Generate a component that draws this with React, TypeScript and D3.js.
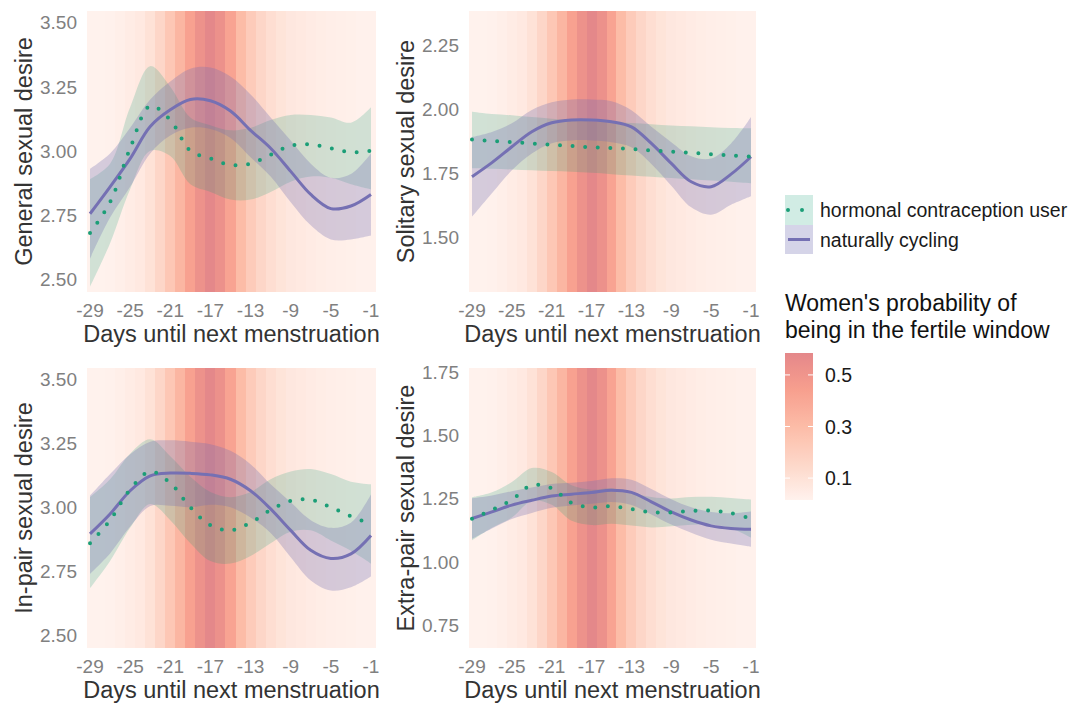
import React from "react";
import * as d3 from "d3";

// ---------- DATA ----------
const days = [-29, -27, -25, -23, -21, -19, -17, -15, -13, -11, -9, -7, -5, -3, -1];
const xTicks = [-29, -25, -21, -17, -13, -9, -5, -1];

const fertileDays = [-29, -28, -27, -26, -25, -24, -23, -22, -21, -20, -19, -18, -17, -16, -15, -14, -13, -12, -11, -10, -9, -8, -7, -6, -5, -4, -3, -2, -1];
const fertileProb = [0.015, 0.016, 0.02, 0.03, 0.045, 0.06, 0.1, 0.16, 0.24, 0.33, 0.43, 0.52, 0.585, 0.53, 0.42, 0.3, 0.22, 0.16, 0.12, 0.09, 0.07, 0.06, 0.05, 0.04, 0.035, 0.03, 0.025, 0.02, 0.02];
const legendBreaks = [0.1, 0.3, 0.5];

// General sexual desire
const generalNC = [2.755, 2.86, 2.97, 3.095, 3.16, 3.2, 3.195, 3.155, 3.08, 3.01, 2.92, 2.83, 2.775, 2.785, 2.83];
const generalNCLo = [2.58, 2.74, 2.86, 2.99, 3.06, 3.09, 3.085, 3.05, 2.975, 2.9, 2.8, 2.71, 2.655, 2.655, 2.67];
const generalNCHi = [2.93, 2.99, 3.09, 3.2, 3.27, 3.32, 3.325, 3.29, 3.22, 3.13, 3.04, 2.95, 2.895, 2.91, 2.99];
const generalHC = [2.68, 2.8, 3.01, 3.175, 3.12, 3.0, 2.97, 2.945, 2.95, 2.985, 3.02, 3.025, 3.01, 2.995, 3.0];
const generalHCLo = [2.47, 2.64, 2.85, 3.0, 2.98, 2.87, 2.84, 2.81, 2.81, 2.84, 2.88, 2.9, 2.895, 2.87, 2.85];
const generalHCHi = [2.89, 2.95, 3.17, 3.33, 3.25, 3.13, 3.1, 3.08, 3.09, 3.12, 3.14, 3.14, 3.13, 3.11, 3.17];

// Solitary sexual desire
const solitaryNC = [1.735, 1.79, 1.852, 1.911, 1.946, 1.957, 1.957, 1.95, 1.93, 1.865, 1.787, 1.715, 1.696, 1.745, 1.813];
const solitaryNCLo = [1.578, 1.67, 1.76, 1.826, 1.866, 1.877, 1.877, 1.87, 1.85, 1.785, 1.7, 1.615, 1.586, 1.625, 1.658];
const solitaryNCHi = [1.89, 1.91, 1.944, 1.996, 2.026, 2.037, 2.037, 2.03, 1.995, 1.93, 1.87, 1.815, 1.806, 1.865, 1.968];
const solitaryHC = [1.88, 1.875, 1.87, 1.865, 1.86, 1.855, 1.85, 1.847, 1.843, 1.838, 1.833, 1.828, 1.823, 1.818, 1.813];
const solitaryHCLo = [1.768, 1.766, 1.763, 1.76, 1.757, 1.754, 1.75, 1.745, 1.74, 1.735, 1.73, 1.725, 1.72, 1.715, 1.709];
const solitaryHCHi = [1.989, 1.98, 1.975, 1.968, 1.962, 1.957, 1.952, 1.948, 1.945, 1.94, 1.935, 1.932, 1.928, 1.925, 1.924];

// In-pair sexual desire
const inpairNC = [2.896, 2.974, 3.065, 3.123, 3.134, 3.133, 3.127, 3.11, 3.065, 2.994, 2.91, 2.832, 2.8, 2.818, 2.89];
const inpairNCLo = [2.74, 2.82, 2.925, 3.005, 3.006, 3.0, 3.01, 3.0, 2.96, 2.9, 2.805, 2.714, 2.675, 2.688, 2.73];
const inpairNCHi = [3.045, 3.13, 3.208, 3.257, 3.262, 3.257, 3.247, 3.221, 3.169, 3.09, 3.02, 2.95, 2.92, 2.94, 3.05];
const inpairHC = [2.86, 2.95, 3.07, 3.14, 3.095, 3.0, 2.93, 2.91, 2.94, 2.99, 3.025, 3.03, 3.0, 2.965, 2.935];
const inpairHCLo = [2.683, 2.79, 2.92, 3.013, 2.95, 2.86, 2.79, 2.78, 2.81, 2.86, 2.905, 2.91, 2.87, 2.83, 2.78];
const inpairHCHi = [3.04, 3.11, 3.21, 3.266, 3.2, 3.12, 3.06, 3.04, 3.06, 3.11, 3.14, 3.15, 3.13, 3.1, 3.09];

// Extra-pair sexual desire
const extraNC = [1.171, 1.197, 1.224, 1.243, 1.26, 1.267, 1.274, 1.283, 1.274, 1.237, 1.197, 1.165, 1.142, 1.132, 1.129];
const extraNCLo = [1.091, 1.132, 1.169, 1.193, 1.213, 1.222, 1.229, 1.236, 1.224, 1.187, 1.147, 1.115, 1.087, 1.072, 1.059];
const extraNCHi = [1.251, 1.262, 1.279, 1.293, 1.307, 1.312, 1.319, 1.33, 1.324, 1.287, 1.247, 1.215, 1.197, 1.192, 1.199];
const extraHC = [1.17, 1.205, 1.245, 1.303, 1.29, 1.232, 1.215, 1.22, 1.208, 1.196, 1.195, 1.201, 1.202, 1.192, 1.171];
const extraHCLo = [1.085, 1.135, 1.175, 1.24, 1.225, 1.162, 1.145, 1.15, 1.143, 1.136, 1.14, 1.146, 1.147, 1.132, 1.096];
const extraHCHi = [1.255, 1.275, 1.315, 1.37, 1.355, 1.302, 1.285, 1.29, 1.273, 1.256, 1.25, 1.256, 1.257, 1.252, 1.246];

const ticksGeneral = [2.5, 2.75, 3.0, 3.25, 3.5];
const ticksSolitary = [1.5, 1.75, 2.0, 2.25];
const ticksExtra = [0.75, 1.0, 1.25, 1.5, 1.75];

const seriesLabels = ["hormonal contraception user", "naturally cycling"];
const legendTitleLines = ["Women's probability of", "being in the fertile window"];

// ---------- STYLE ----------
const FONT = "'Liberation Sans', Arial, Helvetica, sans-serif";
const HC_COLOR = "#1b9e77";
const NC_COLOR = "#7570b3";
const TICK_COLOR = "#808080";
const TITLE_COLOR = "#333333";

const fillScale = d3
  .scaleLinear<string>()
  .domain([0.015, 0.15, 0.3, 0.45, 0.585])
  .range(["#fff2ed", "#fdd8ca", "#fcbca7", "#f79d8d", "#e4888a"])
  .interpolate(d3.interpolateLab);

const panels = [
  {
    id: "p1", title: "General sexual desire", left: 87, right: 376, top: 11, bottom: 292,
    yDomain: [2.45, 3.545], ticks: ticksGeneral,
    nc: generalNC, ncLo: generalNCLo, ncHi: generalNCHi, hc: generalHC, hcLo: generalHCLo, hcHi: generalHCHi,
  },
  {
    id: "p2", title: "Solitary sexual desire", left: 469, right: 756, top: 11, bottom: 292,
    yDomain: [1.284, 2.383], ticks: ticksSolitary,
    nc: solitaryNC, ncLo: solitaryNCLo, ncHi: solitaryNCHi, hc: solitaryHC, hcLo: solitaryHCLo, hcHi: solitaryHCHi,
  },
  {
    id: "p3", title: "In-pair sexual desire", left: 87, right: 376, top: 368, bottom: 648,
    yDomain: [2.45, 3.545], ticks: ticksGeneral,
    nc: inpairNC, ncLo: inpairNCLo, ncHi: inpairNCHi, hc: inpairHC, hcLo: inpairHCLo, hcHi: inpairHCHi,
  },
  {
    id: "p4", title: "Extra-pair sexual desire", left: 469, right: 756, top: 368, bottom: 648,
    yDomain: [0.66, 1.765], ticks: ticksExtra,
    nc: extraNC, ncLo: extraNCLo, ncHi: extraNCHi, hc: extraHC, hcLo: extraHCLo, hcHi: extraHCHi,
  },
];

function Panel({ p }: { p: any }) {
  const x = d3.scaleLinear().domain([-29.3, -0.5]).range([p.left, p.right]);
  const y = d3.scaleLinear().domain(p.yDomain).range([p.bottom, p.top]);
  const curve = d3.curveCatmullRom.alpha(0.5);
  const area = (lo: number[], hi: number[]) =>
    d3
      .area<number>()
      .x((d) => x(d))
      .y0((_, i) => y(lo[i]))
      .y1((_, i) => y(hi[i]))
      .curve(curve)(days) as string;
  const line = (v: number[]) =>
    d3
      .line<number>()
      .x((d) => x(d))
      .y((_, i) => y(v[i]))
      .curve(curve)(days) as string;
  const cx = (p.left + p.right) / 2;
  const cy = (p.top + p.bottom) / 2;
  const titleX = p.left - 55;
  return (
    <g>
      <defs>
        <clipPath id={`clip-${p.id}`}>
          <rect x={p.left} y={p.top} width={p.right - p.left} height={p.bottom - p.top} />
        </clipPath>
      </defs>
      <g clipPath={`url(#clip-${p.id})`}>
        {fertileDays.map((d, i) => (
          <rect
            key={d}
            x={x(d - 0.5)}
            y={p.top}
            width={x(d + 0.5) - x(d - 0.5) + 0.3}
            height={p.bottom - p.top}
            fill={fillScale(fertileProb[i])}
            shapeRendering="crispEdges"
          />
        ))}
        <path d={area(p.hcLo, p.hcHi)} fill={HC_COLOR} fillOpacity={0.2} />
        <path d={area(p.ncLo, p.ncHi)} fill={NC_COLOR} fillOpacity={0.3} />
        <path d={line(p.nc)} fill="none" stroke={NC_COLOR} strokeWidth={3} />
        <path
          d={line(p.hc)}
          fill="none"
          stroke={HC_COLOR}
          strokeWidth={4}
          strokeLinecap="round"
          strokeDasharray="0 12.6"
        />
      </g>
      {p.ticks.map((t: number) => (
        <text
          key={t}
          x={p.left - 10}
          y={y(t)}
          dy="0.36em"
          textAnchor="end"
          fontSize={19}
          fill={TICK_COLOR}
          fontFamily={FONT}
        >
          {t.toFixed(2)}
        </text>
      ))}
      {xTicks.map((t) => (
        <text
          key={t}
          x={x(t)}
          y={p.bottom + 25}
          textAnchor="middle"
          fontSize={19}
          fill={TICK_COLOR}
          fontFamily={FONT}
        >
          {`-${Math.abs(t)}`}
        </text>
      ))}
      <text
        x={cx}
        y={p.bottom + 50}
        textAnchor="middle"
        fontSize={23.5}
        fill={TITLE_COLOR}
        fontFamily={FONT}
      >
        Days until next menstruation
      </text>
      <text
        transform={`translate(${titleX},${cy}) rotate(-90)`}
        textAnchor="middle"
        fontSize={23.5}
        fill={TITLE_COLOR}
        fontFamily={FONT}
      >
        {p.title}
      </text>
    </g>
  );
}

function Legend() {
  const kx = 785;
  const kw = 28;
  const barTop = 353;
  const barBottom = 500;
  const cb = d3.scaleLinear().domain([0.015, 0.585]).range([barBottom, barTop]);
  const stops = d3.range(0, 1.0001, 0.05);
  return (
    <g fontFamily={FONT}>
      <rect x={kx} y={195} width={kw} height={30} fill={HC_COLOR} fillOpacity={0.2} />
      <line
        x1={kx + 3}
        x2={kx + kw - 3}
        y1={210}
        y2={210}
        stroke={HC_COLOR}
        strokeWidth={4}
        strokeLinecap="round"
        strokeDasharray="0 14"
      />
      <rect x={kx} y={225} width={kw} height={29} fill={NC_COLOR} fillOpacity={0.3} />
      <line x1={kx + 3} x2={kx + kw - 3} y1={239.5} y2={239.5} stroke={NC_COLOR} strokeWidth={3} />
      <text x={820} y={210} dy="0.36em" fontSize={19.5} fill="#1a1a1a">
        {seriesLabels[0]}
      </text>
      <text x={820} y={239.5} dy="0.36em" fontSize={19.5} fill="#1a1a1a">
        {seriesLabels[1]}
      </text>
      <text x={kx} y={311} fontSize={23} fill="#111">
        {legendTitleLines[0]}
      </text>
      <text x={kx} y={338} fontSize={23} fill="#111">
        {legendTitleLines[1]}
      </text>
      <defs>
        <linearGradient id="cbar" x1="0" y1="1" x2="0" y2="0">
          {stops.map((s) => (
            <stop
              key={s}
              offset={`${s * 100}%`}
              stopColor={fillScale(0.015 + s * (0.585 - 0.015))}
            />
          ))}
        </linearGradient>
      </defs>
      <rect x={kx} y={barTop} width={kw} height={barBottom - barTop} fill="url(#cbar)" />
      {legendBreaks.map((b) => (
        <g key={b}>
          <line x1={kx} x2={kx + 5} y1={cb(b)} y2={cb(b)} stroke="#fff" strokeWidth={1} />
          <line x1={kx + kw - 5} x2={kx + kw} y1={cb(b)} y2={cb(b)} stroke="#fff" strokeWidth={1} />
          <text x={825} y={cb(b)} dy="0.36em" fontSize={19.5} fill="#1a1a1a">
            {b.toFixed(1)}
          </text>
        </g>
      ))}
    </g>
  );
}

export default function App() {
  return (
    <svg
      width={1070}
      height={703}
      style={{ position: "absolute", left: 0, top: 0, background: "#fff" }}
    >
      <rect x={0} y={0} width={1070} height={703} fill="#fff" />
      {panels.map((p) => (
        <Panel key={p.id} p={p} />
      ))}
      <Legend />
    </svg>
  );
}
